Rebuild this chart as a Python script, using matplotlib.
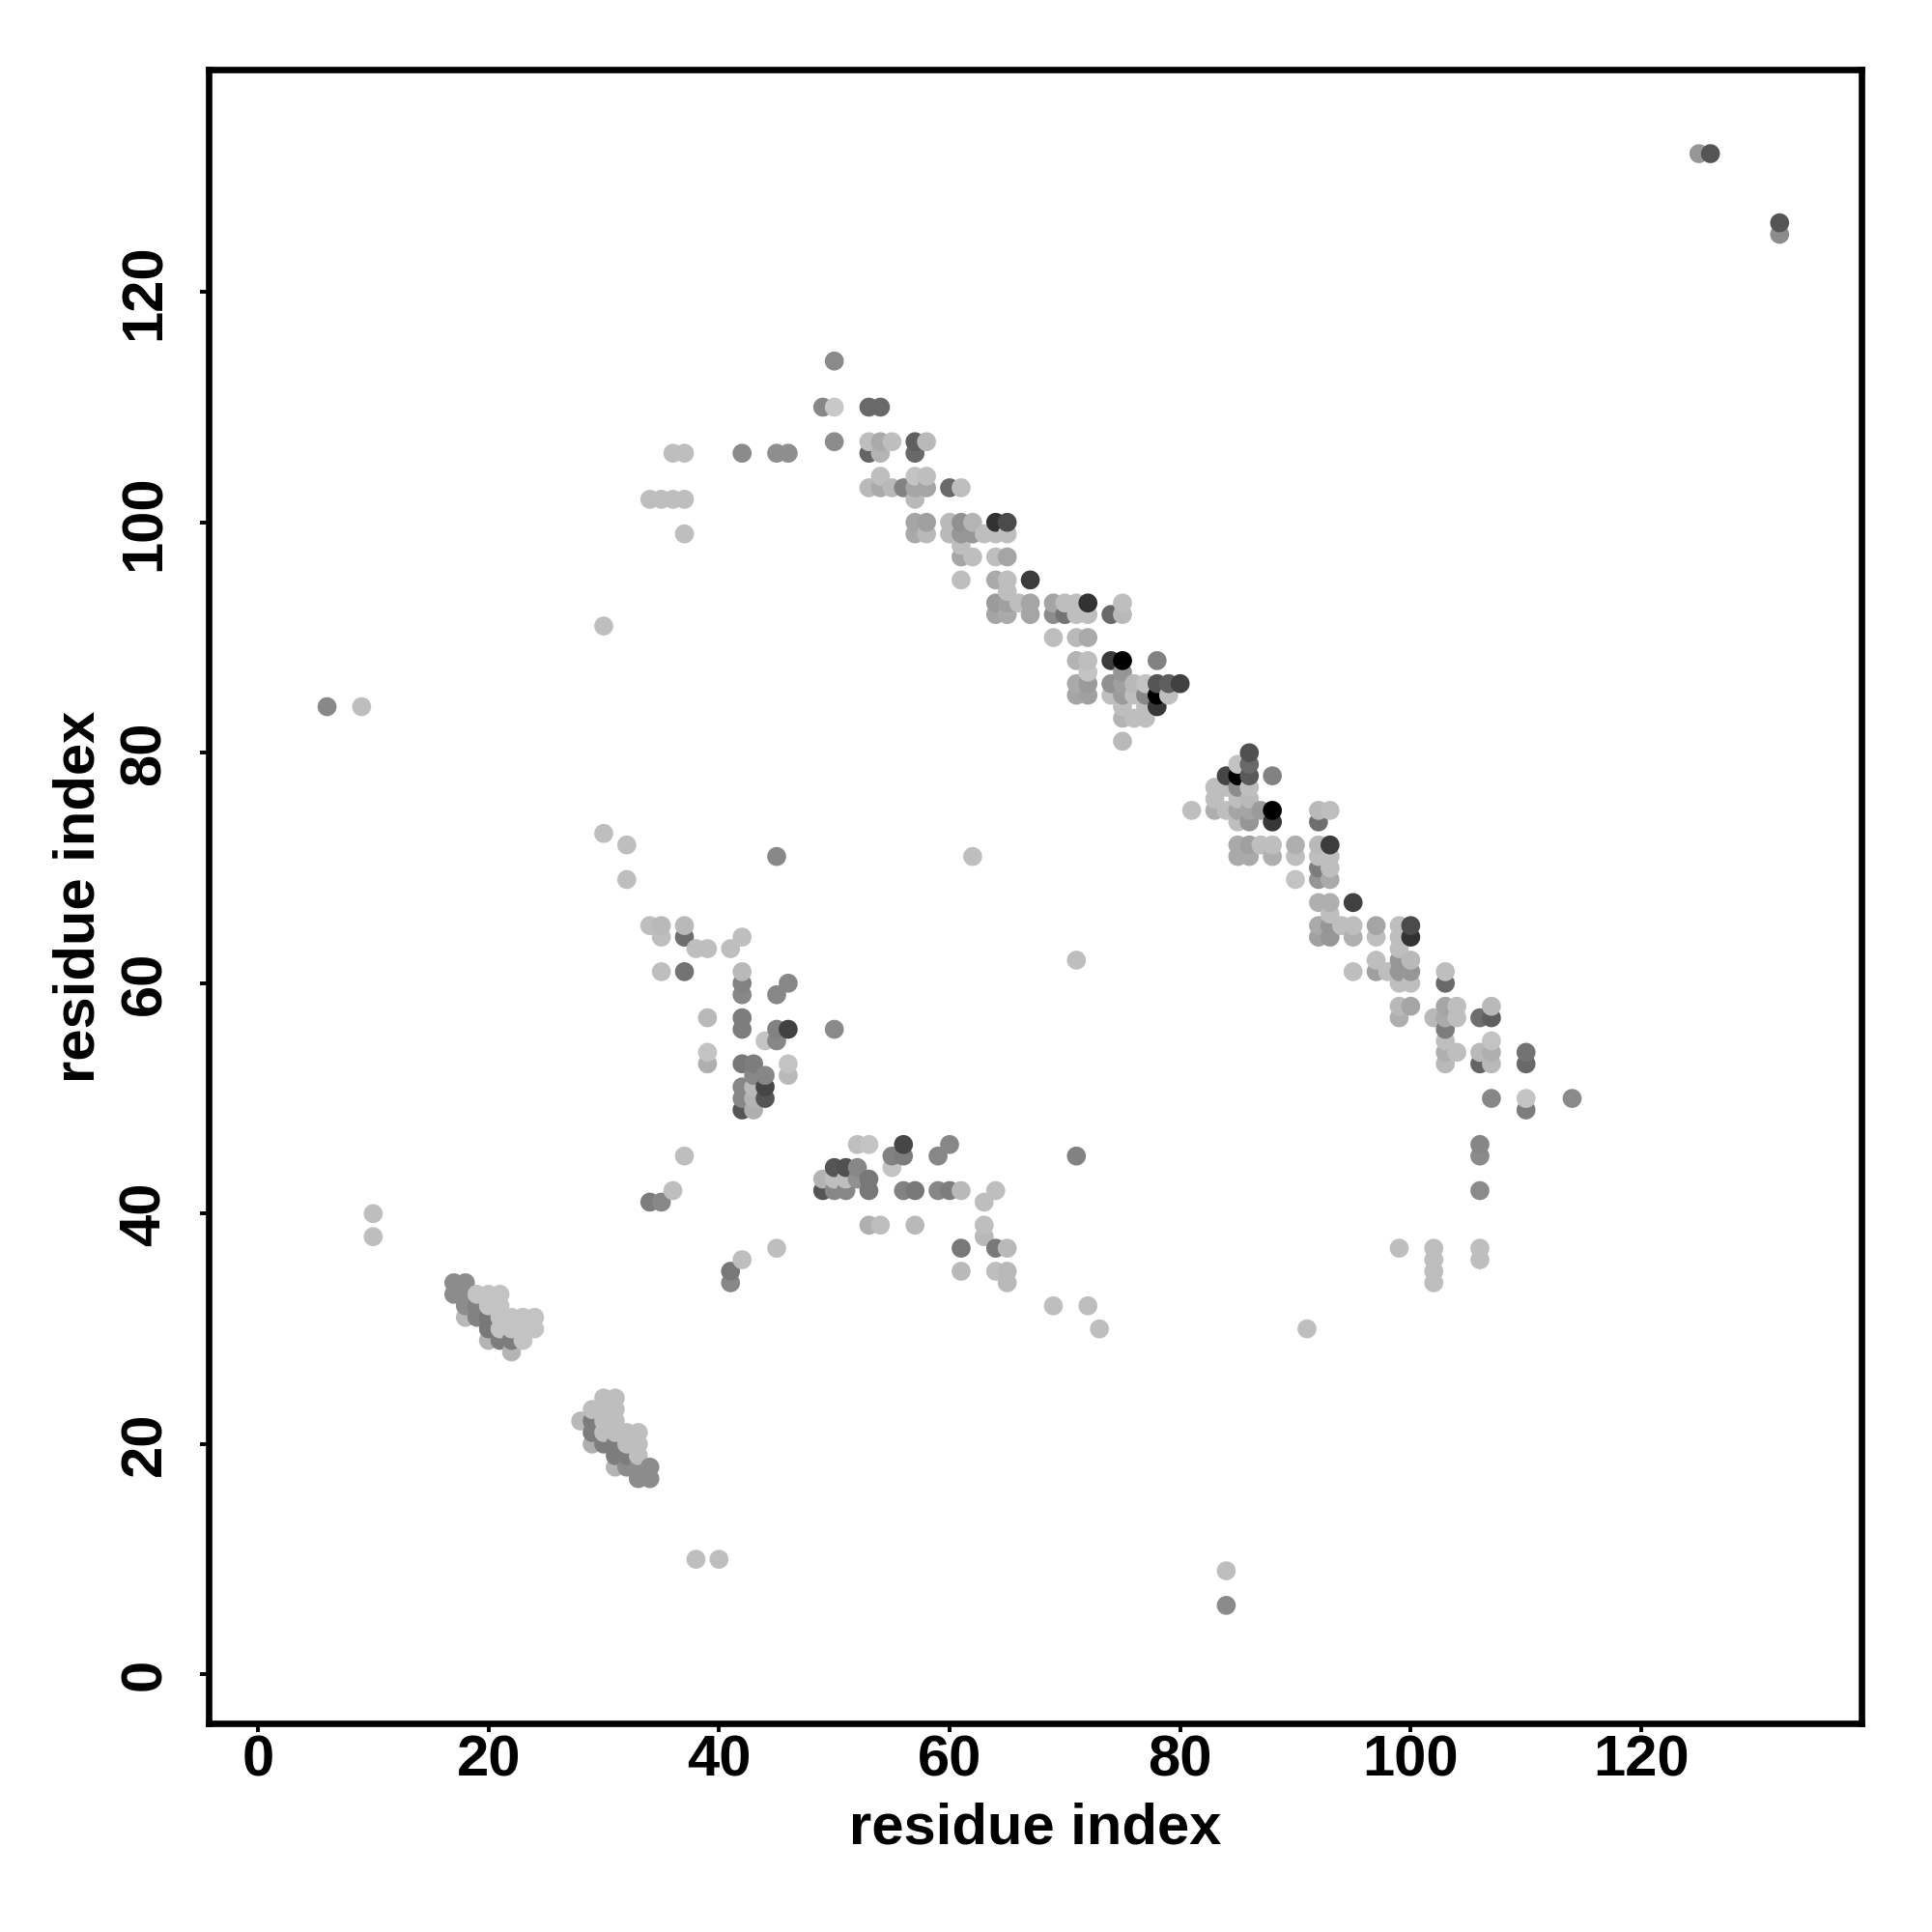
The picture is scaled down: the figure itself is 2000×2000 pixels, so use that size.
import numpy as np
import matplotlib
matplotlib.use("Agg")
import matplotlib.pyplot as plt

plt.rcParams['font.family'] = ['Liberation Sans', 'DejaVu Sans']

# stray contacts and far corner
stray_x = [6,9,10,10,30,30,32,32,38,40,45,62,71,71,84,84,91,125,126,132,132,99,102,102,102,102,106,106,106,106,106,50]
stray_y = [84,84,40,38,91,73,72,69,10,10,71,71,62,45,9,6,30,132,132,126,125,37,37,36,35,34,46,45,42,37,36,114]
stray_g = [136,190,190,190,190,190,190,190,190,190,136,190,190,130,190,138,190,150,85,85,140,190,190,190,190,190,134,138,138,190,190,138]

# two small clusters at lower left
low_x = [17,18,17,18,18,18,19,19,19,20,20,20,20,20,21,21,21,21,21,22,22,22,22,23,23,23,24,24,
         28,29,29,29,29,30,30,30,30,30,31,31,31,31,31,31,31,32,32,32,32,33,33,33,33,33,34,34]
low_y = [34,34,33,33,32,31,33,32,31,33,32,31,30,29,33,32,31,30,29,31,30,29,28,31,30,29,31,30,
         22,23,22,21,20,24,23,22,21,20,24,23,22,21,20,19,18,21,20,19,18,21,20,19,18,17,18,17]
low_g = [140,140,140,140,140,185,195,130,130,195,195,120,120,180,195,195,195,195,125,195,195,125,180,195,195,195,195,195,
         185,190,125,125,175,190,190,190,190,125,190,190,190,190,125,125,180,190,190,125,140,190,190,190,140,140,140,140]

# middle band, residues 34-46
mid_x = [34,35,36,37,36,37,37,42,45,46,
         34,35,35,37,37,38,39,41,42,35,37,42,42,42,45,46,39,42,42,45,46,44,45,39,39,42,43,46,46,43,44,42,42,42,43,43,43,44,44,50,
         37,36,34,35,42,41,41,45]
mid_y = [102,102,102,102,106,106,99,106,106,106,
         65,65,64,65,64,63,63,63,64,61,61,61,60,59,59,60,57,57,56,56,56,55,55,54,53,53,53,53,52,52,52,51,50,49,51,50,49,51,50,56,
         45,42,41,41,36,35,34,37]
mid_g = [190,190,190,190,190,190,190,138,142,142,
         190,185,190,185,110,190,190,190,190,190,115,185,130,135,135,135,185,125,125,130,65,195,135,195,175,120,125,195,185,135,135,135,135,85,185,180,175,70,85,138,
         190,190,125,135,190,120,135,190]

# residues 49-73, low band
band_x = [52,53,56,60,59,55,56,55,50,51,52,49,50,51,52,53,49,50,51,53,56,57,59,60,61,63,64,
          53,54,57,63,63,61,64,65,61,64,65,65,69,72,73]
band_y = [46,46,46,46,45,45,45,44,44,44,44,43,43,43,43,43,42,42,42,42,42,42,42,42,42,41,42,
          39,39,39,39,38,37,37,37,35,35,35,34,32,32,30]
band_g = [190,195,70,135,135,130,125,195,85,80,135,180,190,190,145,120,85,135,135,120,130,120,135,125,185,190,190,
          175,190,185,190,185,120,120,185,185,190,185,185,190,190,190]

# diagonal, upper part
up_x = [49,50,53,54,50,53,54,55,57,58,53,54,57,54,57,58,53,54,55,56,57,58,57,60,61,
        57,58,57,58,60,60,61,62,61,62,63,64,65,64,65,61,61,62,64,65,61,64,65,67,65,
        64,65,66,67,64,65,67,69,70,71,72,69,70,71,72,69,71,72]
up_y = [110,110,110,110,107,107,107,107,107,107,106,106,106,104,104,104,103,103,103,103,103,103,102,103,103,
        100,100,99,99,100,99,100,100,99,99,99,99,99,100,100,98,97,97,97,97,95,95,95,95,94,
        93,93,93,93,92,92,92,93,93,93,93,92,92,92,92,90,90,90]
up_g = [135,200,105,105,140,190,170,190,95,185,100,180,105,190,195,190,185,170,185,130,165,165,185,105,190,
        165,160,170,185,185,185,145,180,150,150,190,190,190,50,75,190,165,190,190,165,190,170,190,60,190,
        155,160,190,165,165,170,165,165,190,190,50,140,115,190,190,190,185,170]

# diagonal, residues 71-80
knot_x = [74,75,75,71,72,74,75,78,72,71,72,71,72,74,75,75,76,77,78,79,80,74,75,76,77,78,79,78,75,77,75,76,77,75]
knot_y = [92,93,92,88,88,88,88,88,87,86,86,85,85,86,87,86,86,86,86,86,86,85,85,85,85,85,85,84,84,84,83,83,83,81]
knot_g = [105,190,185,180,190,60,0,130,195,170,155,165,160,145,150,160,185,195,85,95,65,190,155,190,135,0,190,55,190,190,180,190,190,185]

# diagonal, residues 81-100
lower_x = [86,85,86,84,85,86,88,83,84,85,86,83,85,86,81,83,84,85,86,87,88,85,86,88,92,93,92,
           85,86,87,88,85,86,88,90,90,90,92,93,92,93,92,93,92,93,92,93,93,92,93,94,95,92,93,95,95,
           97,97,99,100,99,100,99,97,99,100,95,97,98,99,100]
lower_y = [80,79,79,78,78,78,78,77,77,77,77,76,76,76,75,75,75,75,75,75,75,74,74,74,75,75,74,
           72,72,72,72,71,71,71,72,71,69,72,72,71,71,70,70,69,69,67,67,66,65,65,65,65,64,64,64,67,
           65,64,65,65,64,64,63,62,62,62,61,61,61,61,61]
lower_g = [80,195,105,70,0,90,130,190,190,140,190,190,190,185,190,175,190,165,165,155,0,190,150,55,185,190,110,
           170,160,190,190,170,170,175,175,190,195,185,60,190,190,125,190,150,170,175,175,190,170,150,190,190,160,150,175,65,
           165,190,190,75,190,50,190,190,150,185,190,160,190,150,150]

# diagonal, tail
tail_x = [103,103,99,100,99,100,102,103,104,103,104,103,103,103,104,103,107,106,107,107,106,107,106,107,110,110,107,110,110,114,99]
tail_y = [61,60,60,60,58,58,57,58,58,57,57,56,55,54,54,53,58,57,57,55,54,54,53,53,54,53,50,50,49,50,57]
tail_g = [190,105,190,190,185,165,185,165,190,170,190,125,190,175,190,185,185,110,95,195,185,175,100,185,115,105,135,195,125,138,175]

x = np.array(stray_x + low_x + mid_x + band_x + up_x + knot_x + lower_x + tail_x)
y = np.array(stray_y + low_y + mid_y + band_y + up_y + knot_y + lower_y + tail_y)
g = np.array(stray_g + low_g + mid_g + band_g + up_g + knot_g + lower_g + tail_g)

# later residues are drawn over earlier ones
order = np.lexsort((y, x))
x, y, g = x[order], y[order], g[order]
cols = [(v/255, v/255, v/255) for v in g]

fig = plt.figure(figsize=(10, 10), dpi=200)
ax = fig.add_axes([216/2000, 216/2000, 1711/2000, 1712/2000])
ax.scatter(x, y, s=50, c=cols, linewidths=0, clip_on=False)

ax.set_xlim(-4.27, 139.1)
ax.set_ylim(-4.24, 139.3)
ax.set_xticks(range(0, 121, 20))
ax.set_yticks(range(0, 121, 20))
ax.tick_params(axis='x', length=3.2, width=1.4, labelsize=21.5, pad=1)
ax.tick_params(axis='y', length=3.2, width=1.4, labelsize=21.5, pad=10.5)
for lab in ax.get_xticklabels() + ax.get_yticklabels():
    lab.set_fontweight('bold')
for lab in ax.get_yticklabels():
    lab.set_rotation(90)
    lab.set_va('center')
for s in ax.spines.values():
    s.set_linewidth(2.4)

ax.set_xlabel("residue index", fontsize=21.5, fontweight='bold', labelpad=5.5)
ax.set_ylabel("residue index", fontsize=21.5, fontweight='bold', labelpad=4.8)

fig.savefig("out.png", dpi=200)
